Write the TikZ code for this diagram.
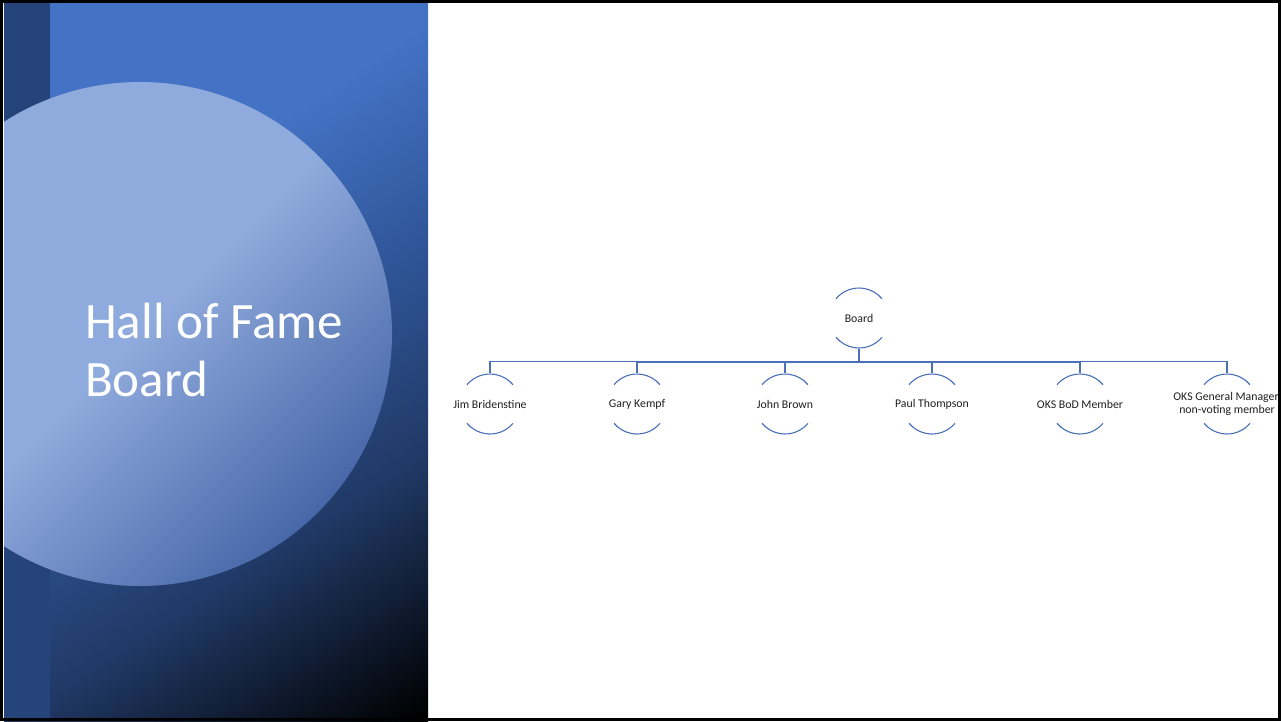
\documentclass[tikz,border=0pt]{standalone}
\usepackage{fontspec}
\setmainfont{Carlito}

\definecolor{slideblue}{HTML}{4472C4}
\definecolor{midblue}{HTML}{2F5597}
\definecolor{deepblue}{HTML}{203864}
\definecolor{stripblue}{HTML}{24447A}
\definecolor{circlight}{HTML}{8FAADC}
\definecolor{circdark}{HTML}{4767A8}
\definecolor{linkblue}{HTML}{4A70BA}

\pgfdeclareverticalshading{panelshade}{100bp}{color(0bp)=(black); color(26.9bp)=(black); color(38.9bp)=(deepblue); color(49bp)=(midblue); color(59.3bp)=(slideblue); color(100bp)=(slideblue)}
\pgfdeclareverticalshading{circshade}{100bp}{color(0bp)=(circdark); color(25bp)=(circdark); color(50bp)=(circlight); color(100bp)=(circlight)}

\begin{document}
\begin{tikzpicture}[x=1pt, y=-1pt,
  member/.style={rectangle, minimum width=61pt, minimum height=61pt, inner sep=0pt, align=center, text=black!88, font=\fontsize{11.8}{13.5}\selectfont},
  rim/.style={draw=linkblue, line width=1.1pt},
  link/.style={draw=linkblue, line width=1.2pt}]
  \useasboundingbox (0,0) rectangle (1281,721);
  \fill[white] (0,0) rectangle (1281,721);
  % Left panel with the big circle
  \begin{scope}
    \clip (4,0) rectangle (428,721);
    \shade[shading=panelshade, shading angle=33] (-234,-90) rectangle (666,810);
    \fill[stripblue] (4,0) rectangle (50,721);
    \shade[shading=circshade, shading angle=45] (140,334) circle[radius=252];
  \end{scope}
  \node[anchor=base west, inner sep=0pt, align=left, text=white, font=\fontsize{51}{58}\selectfont] (title) at (85,396) {Hall of Fame\\Board};
  % The board and its members
  \node[member] (board) at (859,318) {Board};
  \node[member] (jim) at (490,404) {Jim Bridenstine};
  \node[member] (gary) at (637,404) {Gary Kempf};
  \node[member] (john) at (785,404) {John Brown};
  \node[member] (paul) at (932,404) {Paul Thompson};
  \node[member] (bod) at (1080,404) {OKS BoD Member};
  \node[member] (gm) at (1227,404) {OKS General Manager,\\non-voting member};
  \coordinate (hub) at (859,361.5);
  % Draw the arcs round each name
  \foreach \m in {board,jim,gary,john,paul,bod,gm} {
    \draw[rim] ([shift={(40:30)}]\m.center) arc[start angle=40, end angle=140, radius=30];
    \draw[rim] ([shift={(220:30)}]\m.center) arc[start angle=220, end angle=320, radius=30];
  }
  % Draw the links
  \draw[link, line width=2.4pt] (board.south) -- (hub);
  \draw[link, line width=2pt] (hub -| gary.north) -- (hub -| bod.north);
  \foreach \m in {jim,gary,john,paul,bod,gm}
    \draw[link] (hub) -| (\m.north);
  % Frame
  \draw[line width=3pt] (1.5,1.5) rectangle (1279.5,719.5);
\end{tikzpicture}
\end{document}
